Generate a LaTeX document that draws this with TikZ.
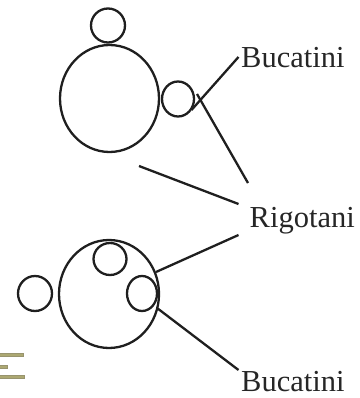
\documentclass[tikz,border=0pt]{standalone}
\usepackage{fontspec}
\setmainfont{Liberation Serif}
\begin{document}
\begin{tikzpicture}[x=1pt,y=-1pt,
  ring/.style={draw=black!88,line width=2.3pt,inner sep=0pt},
  lead/.style={draw=black!88,line width=2.3pt},
  lbl/.style={font=\fontsize{30.5}{32}\selectfont,text=black!85,inner sep=0pt,anchor=base west},
  bar/.style={draw=black!55!olive!60,fill=olive!45!gray!75!white,line width=0.7pt}]
\useasboundingbox (0,0) rectangle (359,398);
% top group
\draw[ring] (108,25.5) circle (17);
\draw[ring] (109.5,98.5) ellipse (49.5 and 53.5);
\draw[ring] (178,99) ellipse (16 and 17.5);
% bottom group
\draw[ring] (109,294) ellipse (50 and 54);
\draw[ring] (110,259) ellipse (16.5 and 16);
\draw[ring] (142,293.5) ellipse (15 and 17.5);
\draw[ring] (35,293.5) ellipse (17 and 17.5);
% labels
\node[lbl] (b1) at (241,67.5) {Bucatini};
\node[lbl] (r) at (249.5,227.3) {Rigotani};
\node[lbl] (b2) at (241,391.5) {Bucatini};
% connector ends
\coordinate (b1e) at (238.5,57);
\coordinate (c1) at (191.5,110);
\coordinate (c2) at (197,94);
\coordinate (re1) at (248,183);
\coordinate (c3) at (139,166);
\coordinate (re2) at (238.5,204);
\coordinate (re3) at (238.5,235);
\coordinate (c4) at (156,272);
\coordinate (c5) at (157,308);
\coordinate (b2e) at (238.5,370);
\draw[lead] (b1e) -- (c1);
\draw[lead] (c2) -- (re1);
\draw[lead] (c3) -- (re2);
\draw[lead] (re3) -- (c4);
\draw[lead] (c5) -- (b2e);
% bars
\draw[bar] (-1,353.3) rectangle (23,356.7);
\draw[bar] (-1,365.3) rectangle (7,368.5);
\draw[bar] (-1,375.1) rectangle (24,378.5);
\end{tikzpicture}
\end{document}
